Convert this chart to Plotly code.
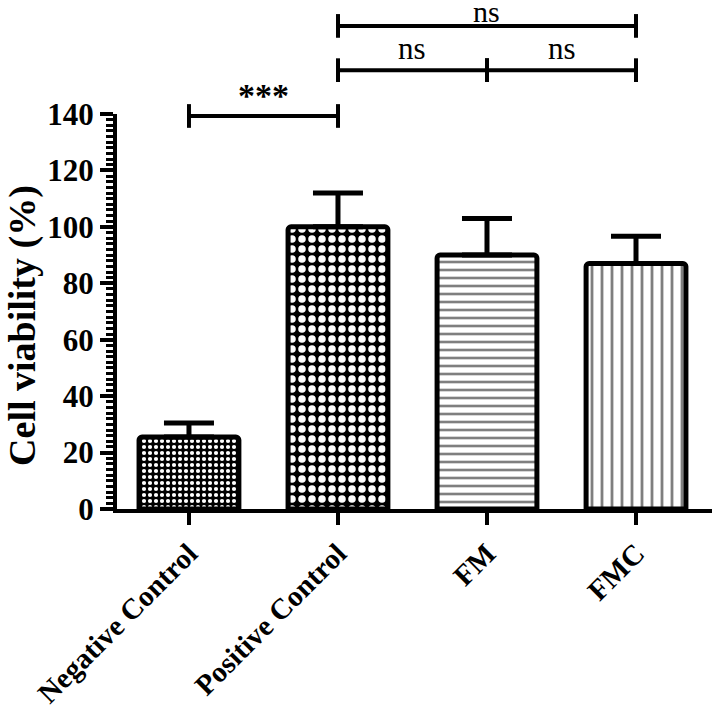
import plotly.graph_objects as go

categories = ["Negative Control", "Positive Control", "FM", "FMC"]
viability = [25.5, 100, 90, 87]
sem = [5, 12, 13, 9.7]
y_ticks = [0, 20, 40, 60, 80, 100, 120, 140]

# significance brackets: (left idx, right idx, level in paper y, label, bold, text offset, size)
brackets = [
    (0, 1, 0.995, "***", True, 0.0, 34),
    (1, 2, 1.111, "ns", False, 0.006, 31),
    (2, 3, 1.111, "ns", False, 0.006, 31),
    (1, 3, 1.223, "ns", False, -0.010, 30),
]

patterns = [
    dict(shape=".", bgcolor="black", fgcolor="white", size=6, solidity=0.38, fgopacity=1),
    dict(shape=".", bgcolor="black", fgcolor="white", size=10, solidity=0.45, fgopacity=1),
    dict(shape="-", bgcolor="white", fgcolor="black", size=8, solidity=0.33),
    dict(shape="|", bgcolor="white", fgcolor="black", size=10, solidity=0.28),
]

FONT = "Liberation Serif"

fig = go.Figure()
for i, cat in enumerate(categories):
    fig.add_trace(go.Bar(
        x=[i], y=[viability[i]], width=0.67,
        marker=dict(color="white", line=dict(color="black", width=5),
                    pattern=patterns[i], cornerradius=3),
        error_y=dict(type="data", symmetric=False, array=[sem[i]], arrayminus=[0],
                     color="black", thickness=5, width=25),
        showlegend=False,
    ))

shapes = []
annotations = []
tick_h = 0.03
for (a, b, lvl, label, bold, off, fs) in brackets:
    shapes.append(dict(type="line", xref="x", yref="paper", x0=a, x1=b, y0=lvl, y1=lvl,
                       line=dict(color="black", width=4)))
    for xe in (a, b):
        shapes.append(dict(type="line", xref="x", yref="paper", x0=xe, x1=xe,
                           y0=lvl - tick_h, y1=lvl + tick_h,
                           line=dict(color="black", width=4)))
    annotations.append(dict(xref="x", yref="paper", x=(a + b) / 2, y=lvl + off,
                            yanchor="bottom", showarrow=False, text=label,
                            font=dict(family=FONT, size=fs, color="black",
                                      weight="bold" if bold else "normal")))

annotations.append(dict(xref="paper", yref="paper", x=-0.158, y=0.466, textangle=-90,
                        xanchor="center", yanchor="middle",
                        showarrow=False, text="Cell viability (%)",
                        font=dict(family=FONT, size=38, color="black", weight="bold")))

fig.update_layout(
    width=714, height=709,
    margin=dict(l=117, r=2, t=114, b=200, autoexpand=False),
    plot_bgcolor="white", paper_bgcolor="white",
    shapes=shapes, annotations=annotations,
    xaxis=dict(range=[-0.483, 3.51], tickmode="array", tickvals=list(range(len(categories))),
               ticktext=categories, tickangle=-45, showline=True, linecolor="black",
               linewidth=4, ticks="outside", ticklen=12, tickwidth=4, tickcolor="black",
               showgrid=False, zeroline=False, automargin=False,
               tickfont=dict(family=FONT, size=29, color="black", weight="bold")),
    yaxis=dict(range=[0, 140], tickmode="array", tickvals=y_ticks, showline=True,
               linecolor="black", linewidth=4, ticks="outside", ticklen=13, tickwidth=4,
               tickcolor="black", showgrid=False, zeroline=False, automargin=False,
               minor=dict(dtick=2, ticks="outside", ticklen=7, tickwidth=3, tickcolor="black",
                          showgrid=False),
               tickfont=dict(family=FONT, size=31, color="black", weight="bold")),
)

fig.write_html("out.html", config={"displayModeBar": False},
               post_script="document.body.style.margin='0';document.body.style.padding='0';")
